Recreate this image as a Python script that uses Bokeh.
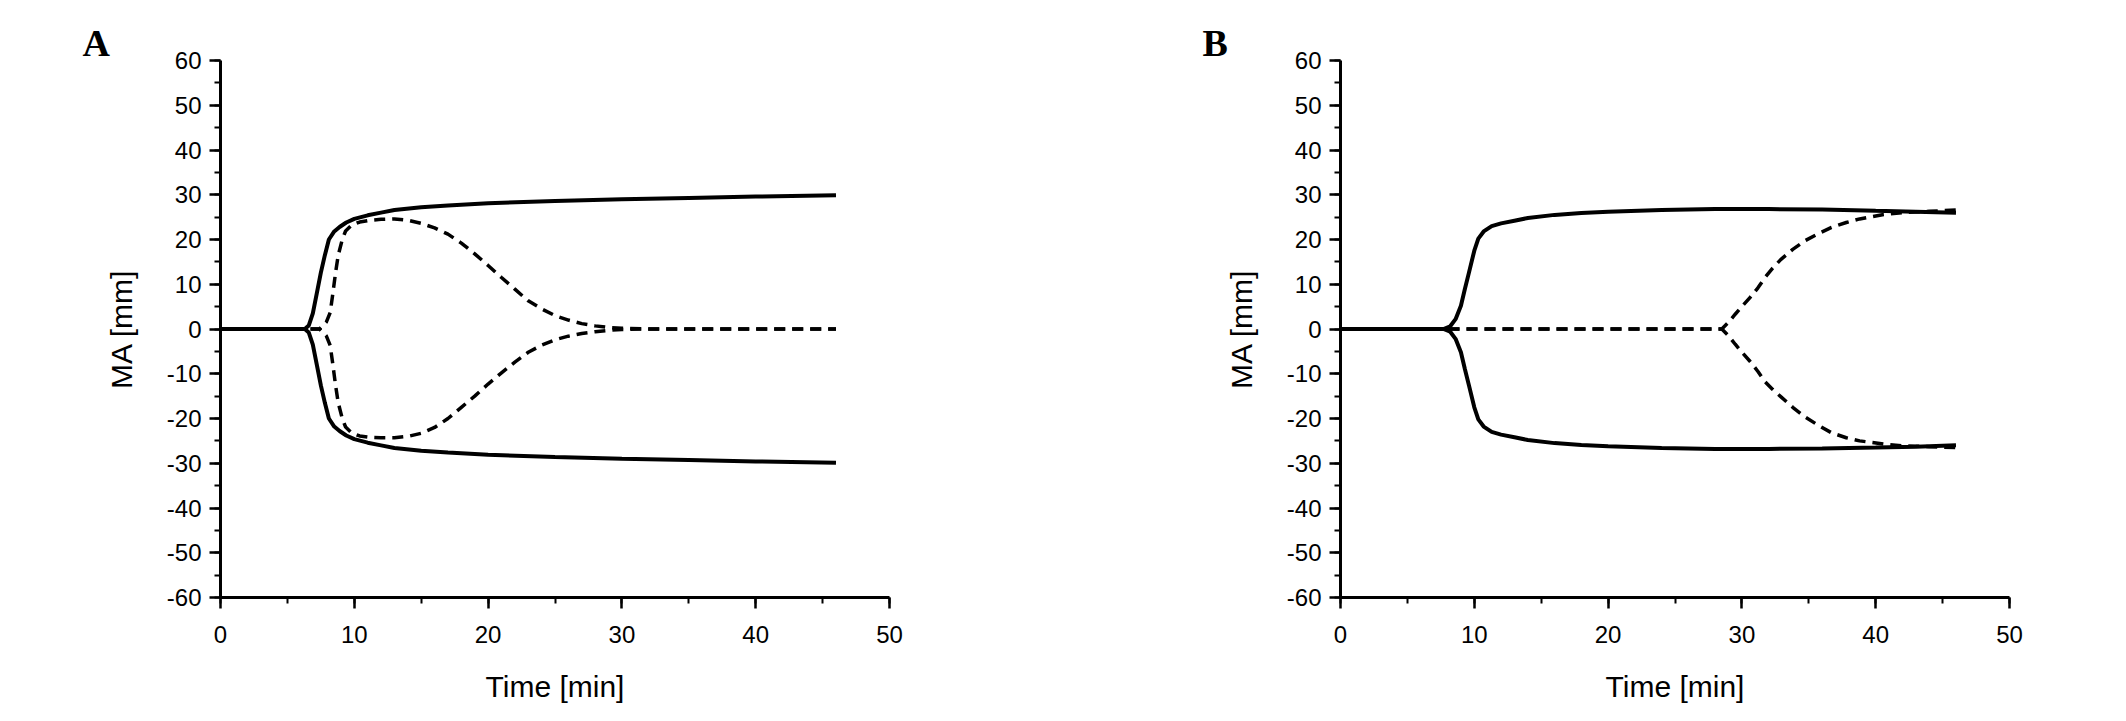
from bokeh.plotting import figure
from bokeh.layouts import row
from bokeh.models import Range1d, SingleIntervalTicker, CustomJSTickFormatter
from bokeh.embed import file_html
from bokeh.resources import INLINE

# ---------------- Panel A data ----------------
tA_solid = [0, 6.3, 6.6, 6.9, 7.2, 7.5, 7.8, 8.1, 8.5, 8.9, 9.4, 10, 11, 12, 13, 15, 17, 20, 25, 30, 35, 40, 46]
yA_solid_up = [0, 0, 0.8, 3.5, 8, 12.6, 16.5, 20, 21.8, 22.8, 23.8, 24.6, 25.4, 26.0, 26.6, 27.2, 27.6, 28.1, 28.6, 29.0, 29.3, 29.6, 29.9]
yA_solid_lo = [0, 0, -0.8, -3.5, -8, -12.6, -16.5, -20, -21.8, -22.8, -23.8, -24.6, -25.4, -26.0, -26.6, -27.2, -27.6, -28.1, -28.6, -29.0, -29.3, -29.6, -29.9]

tA_dash = [0, 7.4, 7.9, 8.2, 8.4, 8.6, 8.8, 9.1, 9.35, 9.8, 10.4, 11.2, 12, 13, 14, 15, 16, 17, 18, 19, 20, 21, 22, 23, 24, 25, 26, 27, 28, 29, 30, 32, 46]
yA_dash_up = [0, 0, 1.5, 3.7, 8, 12.6, 16.5, 20, 21.9, 23.2, 23.9, 24.3, 24.5, 24.6, 24.3, 23.6, 22.6, 21.2, 19.2, 16.8, 14.2, 11.5, 8.9, 6.3, 4.5, 3.0, 2.0, 1.2, 0.7, 0.35, 0.15, 0, 0]
yA_dash_lo = [0, 0, -1.5, -3.7, -8, -12.6, -16.5, -20, -21.9, -23.2, -23.9, -24.2, -24.3, -24.3, -24.0, -23.3, -22.0, -20.0, -17.5, -15.0, -12.3, -9.8, -7.4, -5.2, -3.6, -2.4, -1.6, -1.0, -0.6, -0.3, -0.1, 0, 0]

# ---------------- Panel B data ----------------
tB_solid = [0, 7.7, 8.2, 8.6, 9.0, 9.3, 9.6, 10.0, 10.3, 10.7, 11.3, 12, 13, 14, 16, 18, 20, 24, 28, 32, 36, 40, 43, 46]
yB_solid_up = [0, 0, 0.6, 2.2, 5.2, 9, 12.6, 17.5, 20.2, 21.8, 23, 23.6, 24.2, 24.8, 25.5, 25.9, 26.2, 26.6, 26.8, 26.8, 26.7, 26.4, 26.2, 26.0]
yB_solid_lo = [0, 0, -0.6, -2.2, -5.2, -9, -12.6, -17.5, -20.2, -21.8, -23, -23.6, -24.2, -24.8, -25.5, -25.9, -26.2, -26.6, -26.8, -26.8, -26.7, -26.5, -26.3, -26.0]

tB_dash = [0, 28.5, 29.0, 29.5, 30.0, 30.6, 31.2, 31.7, 32.3, 32.9, 33.8, 34.7, 35.7, 36.7, 37.8, 38.8, 40.6, 42, 44, 46]
yB_dash_up = [0, 0, 1.5, 3.3, 5.0, 7.0, 9.2, 11.4, 13.6, 15.5, 17.8, 19.7, 21.3, 22.7, 23.8, 24.6, 25.6, 26.0, 26.3, 26.6]
yB_dash_lo = [0, 0, -1.5, -3.4, -5.2, -7.2, -9.5, -11.7, -13.5, -15.1, -17.5, -19.6, -21.5, -23.2, -24.3, -25.0, -25.7, -26.1, -26.3, -26.5]

panel_letters = ["A", "B"]
x_axis_title = "Time [min]"
y_axis_title = "MA [mm]"

FONT = "Liberation Sans"


def make_panel(letter, tS, ySu, ySl, tD, yDu, yDl, right_border):
    p = figure(frame_width=669, frame_height=537,
               x_range=Range1d(0, 50), y_range=Range1d(-60, 60),
               output_backend="svg", toolbar_location=None,
               min_border_left=220, min_border_right=right_border,
               min_border_top=60, min_border_bottom=103,
               title=letter)
    p.title.align = "left"
    p.title.offset = -138
    p.title.text_font = "Liberation Serif"
    p.title.text_font_style = "bold"
    p.title.text_font_size = "38px"
    p.title.text_color = "black"
    p.title.standoff = -7

    p.grid.visible = False
    p.outline_line_color = None
    p.background_fill_color = "white"
    p.border_fill_color = "white"

    p.xaxis.ticker = SingleIntervalTicker(interval=10, num_minor_ticks=2)
    p.yaxis.ticker = SingleIntervalTicker(interval=10, num_minor_ticks=2)
    for ax in (p.xaxis, p.yaxis):
        ax.formatter = CustomJSTickFormatter(code="return tick.toFixed(0);")
        ax.axis_line_width = 3
        ax.axis_line_color = "black"
        ax.major_tick_line_width = 2.5
        ax.minor_tick_line_width = 2
        ax.major_tick_line_color = "black"
        ax.minor_tick_line_color = "black"
        ax.major_tick_in = 0
        ax.major_tick_out = 11
        ax.minor_tick_in = 0
        ax.minor_tick_out = 6
        ax.major_label_text_font = FONT
        ax.major_label_text_font_size = "24px"
        ax.major_label_text_color = "black"
        ax.axis_label_text_font = FONT
        ax.axis_label_text_font_size = "30px"
        ax.axis_label_text_font_style = "normal"
        ax.axis_label_text_color = "black"
    p.xaxis.axis_label = x_axis_title
    p.yaxis.axis_label = y_axis_title
    p.xaxis.major_label_standoff = 17
    p.yaxis.major_label_standoff = 8
    p.xaxis.axis_label_standoff = 24
    p.yaxis.axis_label_standoff = 26

    p.line(tS, ySu, line_color="black", line_width=4)
    p.line(tS, ySl, line_color="black", line_width=4)
    p.line(tD, yDu, line_color="black", line_width=3.5, line_dash="11 7")
    p.line(tD, yDl, line_color="black", line_width=3.5, line_dash="11 7")
    return p


pA = make_panel(panel_letters[0], tA_solid, yA_solid_up, yA_solid_lo, tA_dash, yA_dash_up, yA_dash_lo, 231)
pB = make_panel(panel_letters[1], tB_solid, yB_solid_up, yB_solid_lo, tB_dash, yB_dash_up, yB_dash_lo, 101)

layout = row(pA, pB)
open("out.html", "w").write(file_html(layout, INLINE))
